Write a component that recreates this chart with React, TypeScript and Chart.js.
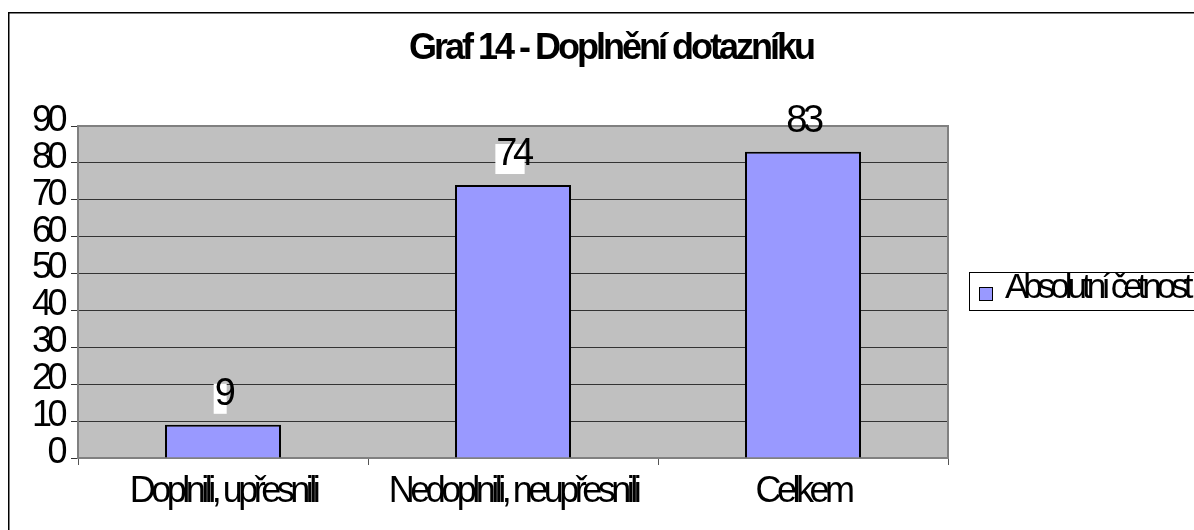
import React, { useEffect, useRef } from "react";
import { Chart, registerables } from "chart.js";

Chart.register(...registerables);

const titleText = "Graf 14 - Doplnění dotazníku";
const seriesName = "Absolutní četnost";
const categories = ["Doplnili, upřesnili", "Nedoplnili, neupřesnili", "Celkem"];
const values = [9, 74, 83];
const yMin = 0;
const yMax = 90;
const yStep = 10;

const FONT = "'Liberation Sans', Arial, sans-serif";
const BAR_COLOR = "#9999ff";
const PLOT_BG = "#c0c0c0";

const decorPlugin = {
  id: "decorPlugin",
  beforeUpdate(chart: any) {
    chart.ctx.letterSpacing = "-4.5px";
  },
  beforeDraw(chart: any) {
    const { ctx, chartArea: a } = chart;
    ctx.letterSpacing = "-4.5px";
    ctx.save();
    ctx.fillStyle = "#ffffff";
    ctx.fillRect(0, 0, chart.width, chart.height);
    ctx.strokeStyle = "#000000";
    ctx.lineWidth = 1.5;
    ctx.strokeRect(8.75, 12.75, 1400, 700);
    ctx.fillStyle = PLOT_BG;
    ctx.fillRect(a.left, a.top, a.right - a.left, a.bottom - a.top);
    ctx.restore();
  },
  beforeDatasetsDraw(chart: any) {
    const { ctx, chartArea: a } = chart;
    ctx.save();
    ctx.strokeStyle = "#808080";
    ctx.lineWidth = 2;
    ctx.beginPath();
    ctx.moveTo(a.left, a.top);
    ctx.lineTo(a.right, a.top);
    ctx.lineTo(a.right, a.bottom);
    ctx.stroke();
    ctx.restore();
  },
  afterDatasetsDraw(chart: any) {
    const { ctx, chartArea: a } = chart;
    const meta = chart.getDatasetMeta(0);
    ctx.save();
    ctx.font = `38px ${FONT}`;
    ctx.letterSpacing = "-4.5px";
    ctx.textAlign = "center";
    ctx.textBaseline = "alphabetic";
    meta.data.forEach((el: any, i: number) => {
      const txt = String(values[i]);
      const base = el.y - 20;
      const w = ctx.measureText(txt).width;
      const boxTop = base - 21;
      if (boxTop >= a.top) {
        ctx.fillStyle = "#ffffff";
        ctx.fillRect(el.x - w / 2 - 1, boxTop, Math.max(w - 4, 13), 30);
      }
      ctx.fillStyle = "#000000";
      ctx.fillText(txt, el.x, base);
    });
    ctx.restore();
  },
  afterDraw(chart: any) {
    const { ctx } = chart;
    ctx.save();
    // title
    ctx.font = `bold 36px ${FONT}`;
    ctx.letterSpacing = "-3px";
    ctx.textAlign = "center";
    ctx.textBaseline = "alphabetic";
    ctx.fillStyle = "#000000";
    ctx.fillText(titleText, 611, 59);
    // legend
    ctx.strokeStyle = "#000000";
    ctx.lineWidth = 1;
    ctx.strokeRect(969.5, 272.5, 400, 38);
    ctx.fillStyle = BAR_COLOR;
    ctx.fillRect(979, 287, 13, 13);
    ctx.strokeRect(979.5, 287.5, 13, 13);
    ctx.font = `35px ${FONT}`;
    ctx.letterSpacing = "-5px";
    ctx.textAlign = "left";
    ctx.fillStyle = "#000000";
    ctx.fillText(seriesName, 1005, 298);
    ctx.restore();
  },
};

export default function App() {
  const canvasRef = useRef<HTMLCanvasElement | null>(null);

  useEffect(() => {
    const canvas = canvasRef.current;
    if (!canvas) return;
    const chart = new Chart(canvas, {
      type: "bar",
      data: {
        labels: categories,
        datasets: [
          {
            label: seriesName,
            data: values,
            backgroundColor: BAR_COLOR,
            borderColor: "#000000",
            borderWidth: 2,
            barPercentage: 0.4,
            categoryPercentage: 1.0,
          },
        ],
      },
      options: {
        animation: false,
        responsive: false,
        devicePixelRatio: 1,
        layout: { padding: { left: 8, top: 126, right: 246, bottom: 12 } },
        plugins: {
          legend: { display: false },
          title: { display: false },
          tooltip: { enabled: false },
        },
        scales: {
          x: {
            afterFit: (s: any) => {
              s.height = 60;
            },
            grid: {
              drawOnChartArea: false,
              drawTicks: true,
              tickLength: 7,
              tickColor: "#555555",
              offset: true,
            },
            border: { color: "#808080", width: 2 },
            ticks: {
              color: "#000000",
              font: { family: FONT, size: 36 },
              padding: 5,
              maxRotation: 0,
              autoSkip: false,
            },
          },
          y: {
            min: yMin,
            max: yMax,
            afterFit: (s: any) => {
              s.width = 70;
            },
            grid: {
              color: "#333333",
              lineWidth: 1,
              tickLength: 7,
              tickColor: "#333333",
            },
            border: { color: "#808080", width: 2 },
            ticks: {
              stepSize: yStep,
              color: "#000000",
              font: { family: FONT, size: 36 },
              padding: 8,
              autoSkip: false,
              labelOffset: -5,
            },
          },
        },
      },
      plugins: [decorPlugin],
    } as any);
    return () => chart.destroy();
  }, []);

  return (
    <div
      style={{
        position: "fixed",
        left: 0,
        top: 0,
        width: 1194,
        height: 530,
        overflow: "hidden",
        background: "#ffffff",
      }}
    >
      <canvas ref={canvasRef} width={1194} height={530} style={{ display: "block" }} />
    </div>
  );
}
